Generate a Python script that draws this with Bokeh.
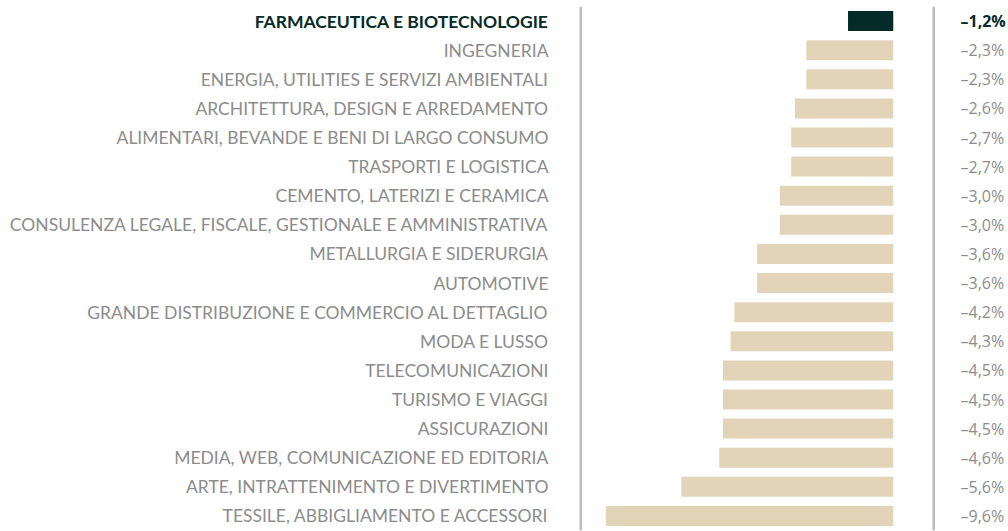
from bokeh.plotting import figure
from bokeh.layouts import row
from bokeh.models import ColumnDataSource, Span, FactorRange
from bokeh.core.properties import value
from bokeh.embed import file_html
from bokeh.resources import INLINE

categories = [
    "FARMACEUTICA E BIOTECNOLOGIE",
    "INGEGNERIA",
    "ENERGIA, UTILITIES E SERVIZI AMBIENTALI",
    "ARCHITETTURA, DESIGN E ARREDAMENTO",
    "ALIMENTARI, BEVANDE E BENI DI LARGO CONSUMO",
    "TRASPORTI E LOGISTICA",
    "CEMENTO, LATERIZI E CERAMICA",
    "CONSULENZA LEGALE, FISCALE, GESTIONALE E AMMINISTRATIVA",
    "METALLURGIA E SIDERURGIA",
    "AUTOMOTIVE",
    "GRANDE DISTRIBUZIONE E COMMERCIO AL DETTAGLIO",
    "MODA E LUSSO",
    "TELECOMUNICAZIONI",
    "TURISMO E VIAGGI",
    "ASSICURAZIONI",
    "MEDIA, WEB, COMUNICAZIONE ED EDITORIA",
    "ARTE, INTRATTENIMENTO E DIVERTIMENTO",
    "TESSILE, ABBIGLIAMENTO E ACCESSORI",
]
values = [-1.2, -2.3, -2.3, -2.6, -2.7, -2.7, -3.0, -3.0, -3.6, -3.6,
          -4.2, -4.3, -4.5, -4.5, -4.5, -4.6, -5.6, -9.6]
highlight = "FARMACEUTICA E BIOTECNOLOGIE"

DARK = "#042b28"
GRAY = "#8c8c8c"
TAN = "#e2d4b8"
LINE = "#bdbdbd"
FONT = value("Lato")
VFONT = value("Open Sans")
FS_LAB = "17.5px"
FS_VAL = "16px"

labels_val = [("–%.1f%%" % abs(v)).replace(".", ",") for v in values]
is_hi = [c == highlight for c in categories]
src = ColumnDataSource(dict(
    cat=categories,
    val=values,
    zero=[0] * len(values),
    lab=labels_val,
    bar_color=[DARK if h else TAN for h in is_hi],
    txt_color=[DARK if h else GRAY for h in is_hi],
    txt_style=["bold" if h else "normal" for h in is_hi],
))

yfactors = list(reversed(categories))
H = 531


def base(width, xr, left=0, right=0):
    p = figure(width=width, height=H, x_range=xr, y_range=FactorRange(*yfactors, range_padding=0),
               output_backend="svg", toolbar_location=None,
               min_border_left=left, min_border_right=right,
               min_border_top=6, min_border_bottom=1)
    p.axis.visible = False
    p.grid.visible = False
    p.outline_line_color = None
    p.background_fill_color = None
    p.border_fill_color = "white"
    return p


# Left: category labels
pa = base(582, (0, 582))
pa.text(x=548, y="cat", text="cat", source=src, text_align="right", text_baseline="middle",
        text_font=FONT, text_font_size=FS_LAB, text_color="txt_color", text_font_style="txt_style")
pa.add_layout(Span(location=580.5, dimension="height", line_color=LINE, line_width=3))

# Middle: bars
pb = base(350, (-7.6, 0), left=23, right=39)
pb.hbar(y="cat", left="val", right="zero", height=0.687, fill_color="bar_color",
        line_color=None, source=src)

# Right: values
pc = base(76, (0, 76))
pc.add_layout(Span(location=1, dimension="height", line_color=LINE, line_width=3))
pc.text(x=28, y="cat", text="lab", source=src, text_align="left", text_baseline="middle",
        text_font=VFONT, text_font_size=FS_VAL, text_color="txt_color", text_font_style="txt_style")

layout = row(pa, pb, pc, spacing=0)
open("out.html", "w").write(file_html(layout, INLINE))
